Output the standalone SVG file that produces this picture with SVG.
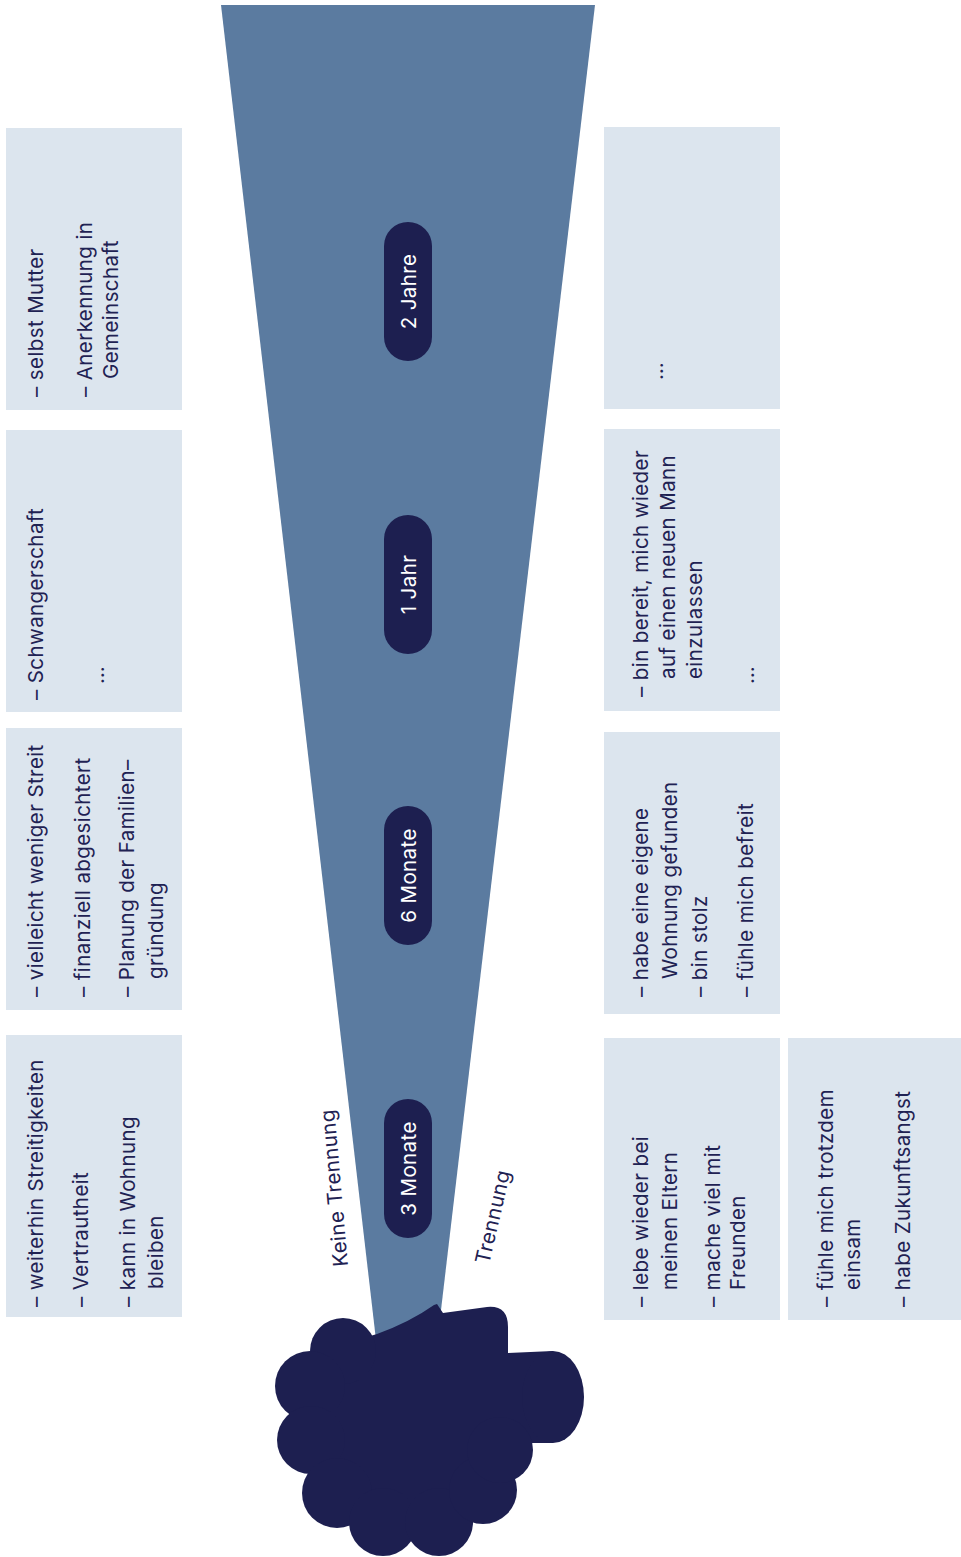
<svg xmlns="http://www.w3.org/2000/svg" width="961" height="1557" viewBox="0 0 961 1557">
  <style>
    .box { fill: #dce5ee; }
    .t { font-family: Inter, "Open Sans", "Liberation Sans", sans-serif; font-size: 20.5px; letter-spacing: 0.4px; fill: #1f2253; }
    .pill { fill: #1d1f50; }
    .pt { font-family: Inter, "Open Sans", "Liberation Sans", sans-serif; font-size: 20.5px; letter-spacing: 0.4px; fill: #ffffff; text-anchor: middle; }
    .ink { fill: #1d1f50; }
  </style>

  <!-- widening time cone -->
  <g id="cone">
    <polygon points="221,5 595,5 441,1310 376,1340" fill="#5b7ba0"/>
  </g>

  <!-- left column: no separation -->
  <g id="left-2y">
    <rect class="box" x="6" y="128" width="176" height="282"/>
    <text class="t" transform="translate(43,397) rotate(-90)">– selbst Mutter</text>
    <text class="t" transform="translate(92,397) rotate(-90)">– Anerkennung in</text>
    <text class="t" transform="translate(118,379) rotate(-90)">Gemeinschaft</text>
  </g>
  <g id="left-1y">
    <rect class="box" x="6" y="430" width="176" height="282"/>
    <text class="t" transform="translate(43,700) rotate(-90)">– Schwangerschaft</text>
    <text class="t" transform="translate(104,684) rotate(-90)">…</text>
  </g>
  <g id="left-6m">
    <rect class="box" x="6" y="728" width="176" height="282"/>
    <text class="t" transform="translate(43,997) rotate(-90)">– vielleicht weniger Streit</text>
    <text class="t" transform="translate(90,997) rotate(-90)">– finanziell abgesichtert</text>
    <text class="t" transform="translate(134,997) rotate(-90)">– Planung der Familien–</text>
    <text class="t" transform="translate(163,979) rotate(-90)">gründung</text>
  </g>
  <g id="left-3m">
    <rect class="box" x="6" y="1035" width="176" height="282"/>
    <text class="t" transform="translate(43,1307) rotate(-90)">– weiterhin Streitigkeiten</text>
    <text class="t" transform="translate(88,1307) rotate(-90)">– Vertrautheit</text>
    <text class="t" transform="translate(135,1307) rotate(-90)">– kann in Wohnung</text>
    <text class="t" transform="translate(163,1289) rotate(-90)">bleiben</text>
  </g>

  <!-- right column: separation -->
  <g id="right-2y">
    <rect class="box" x="604" y="127" width="176" height="282"/>
    <text class="t" transform="translate(663,380) rotate(-90)">…</text>
  </g>
  <g id="right-1y">
    <rect class="box" x="604" y="429" width="176" height="282"/>
    <text class="t" transform="translate(648,697) rotate(-90)">– bin bereit, mich wieder</text>
    <text class="t" transform="translate(675,679) rotate(-90)">auf einen neuen Mann</text>
    <text class="t" transform="translate(702,679) rotate(-90)">einzulassen</text>
    <text class="t" transform="translate(754,684) rotate(-90)">…</text>
  </g>
  <g id="right-6m">
    <rect class="box" x="604" y="732" width="176" height="282"/>
    <text class="t" transform="translate(648,997) rotate(-90)">– habe eine eigene</text>
    <text class="t" transform="translate(677,979) rotate(-90)">Wohnung gefunden</text>
    <text class="t" transform="translate(707,997) rotate(-90)">– bin stolz</text>
    <text class="t" transform="translate(753,997) rotate(-90)">– fühle mich befreit</text>
  </g>
  <g id="right-3m-a">
    <rect class="box" x="604" y="1038" width="176" height="282"/>
    <text class="t" transform="translate(648,1307) rotate(-90)">– lebe wieder bei</text>
    <text class="t" transform="translate(677,1290) rotate(-90)">meinen Eltern</text>
    <text class="t" transform="translate(720,1307) rotate(-90)">– mache viel mit</text>
    <text class="t" transform="translate(745,1290) rotate(-90)">Freunden</text>
  </g>
  <g id="right-3m-b">
    <rect class="box" x="788" y="1038" width="173" height="282"/>
    <text class="t" transform="translate(833,1307) rotate(-90)">– fühle mich trotzdem</text>
    <text class="t" transform="translate(860,1290) rotate(-90)">einsam</text>
    <text class="t" transform="translate(910,1307) rotate(-90)">– habe Zukunftsangst</text>
  </g>

  <!-- time markers on the cone -->
  <g id="m-2y">
    <rect class="pill" x="384" y="222" width="48" height="139" rx="24"/>
    <text class="pt" transform="translate(416,291.5) rotate(-90)">2 Jahre</text>
  </g>
  <g id="m-1y">
    <rect class="pill" x="384" y="515" width="48" height="139" rx="24"/>
    <text class="pt" transform="translate(416,584.5) rotate(-90)">1 Jahr</text>
  </g>
  <g id="m-6m">
    <rect class="pill" x="384" y="806" width="48" height="139" rx="24"/>
    <text class="pt" transform="translate(416,875.5) rotate(-90)">6 Monate</text>
  </g>
  <g id="m-3m">
    <rect class="pill" x="384" y="1099" width="48" height="139" rx="24"/>
    <text class="pt" transform="translate(416,1168.5) rotate(-90)">3 Monate</text>
  </g>

  <!-- branch labels along the cone edges -->
  <g id="label-keine">
    <text class="t" transform="translate(348,1266) rotate(-95)">Keine Trennung</text>
  </g>
  <g id="label-trennung">
    <text class="t" transform="translate(489,1265) rotate(-77)">Trennung</text>
  </g>

  <!-- dark cloud at the origin of the cone -->
  <g id="cloud" class="ink">
    <path d="M 377 1334 Q 410 1322 434 1305 L 437 1304 L 443 1313 L 487 1307 Q 508 1305 508 1327 L 508 1353 L 553 1351 L 553 1443 L 532 1443 L 500 1480 L 460 1530 L 360 1530 L 310 1470 L 300 1390 L 340 1345 Z"/>
    <ellipse cx="553" cy="1397" rx="31" ry="46"/>
    <circle cx="343" cy="1351" r="33"/>
    <circle cx="310" cy="1386" r="35"/>
    <circle cx="311" cy="1440" r="34"/>
    <circle cx="337" cy="1493" r="35"/>
    <circle cx="383" cy="1522" r="34"/>
    <circle cx="439" cy="1522" r="34"/>
    <circle cx="483" cy="1490" r="34"/>
    <circle cx="500" cy="1450" r="33"/>
  </g>
</svg>
